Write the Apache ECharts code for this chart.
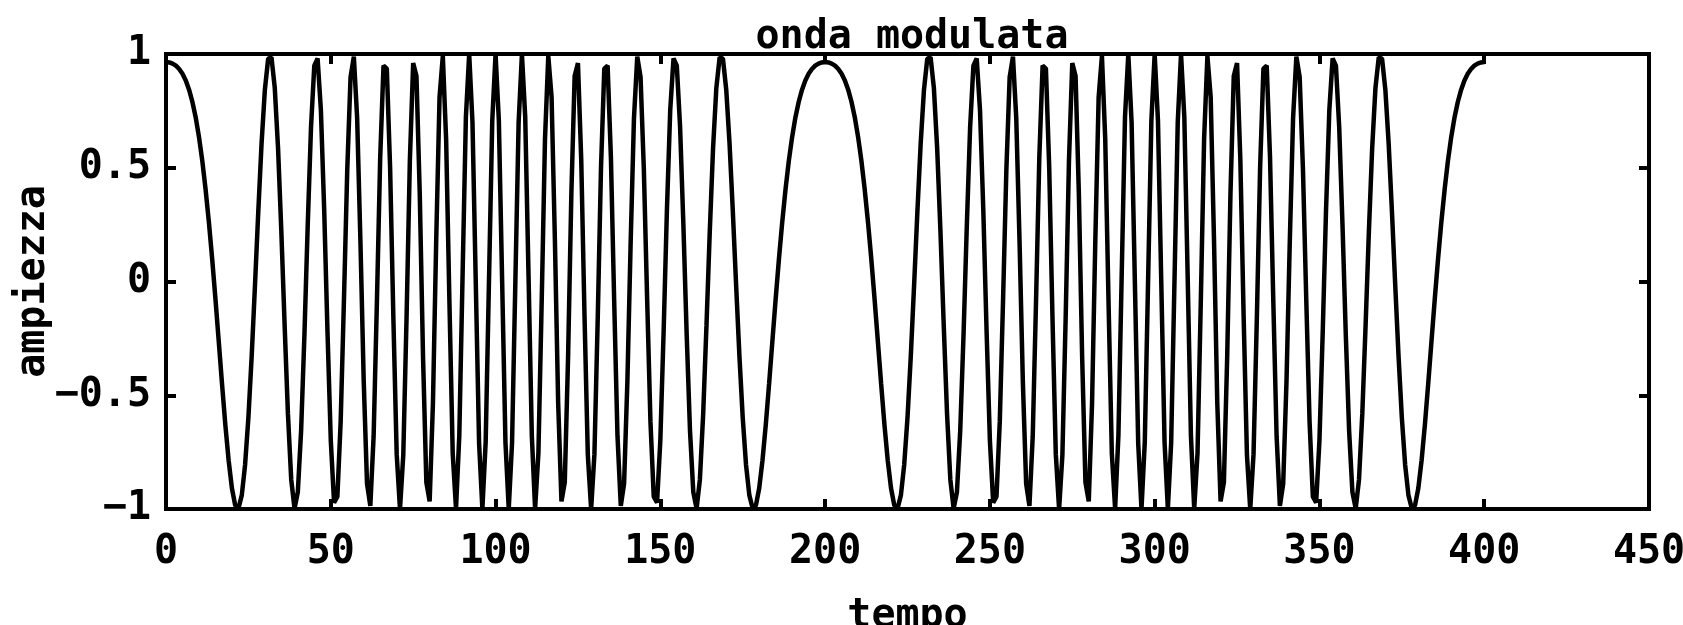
<!DOCTYPE html>
<html>
<head>
<meta charset="utf-8">
<script src="https://cdn.jsdelivr.net/npm/echarts@6/dist/echarts.min.js"></script>
<style>
html,body{margin:0;padding:0;background:#fff;}
#c{width:1683px;height:625px;}
</style>
</head>
<body>
<div id="c"></div>
<script>
// sampling of the time axis (one sample per unit of "tempo")
const tempoStart = 0;
const tempoStep = 1;
// amplitude samples, t = 0 .. 400
const ampiezza = [
0.965,0.963,0.958,0.949,0.934,0.913,0.884,0.843,0.790,0.722,
0.636,0.532,0.407,0.263,0.101,-0.076,-0.262,-0.450,-0.629,-0.786,
-0.909,-0.984,-0.997,-0.939,-0.805,-0.598,-0.328,-0.017,0.307,0.607,
0.843,0.979,0.986,0.852,0.586,0.219,-0.194,-0.582,-0.871,-0.998,
-0.925,-0.655,-0.236,0.246,0.677,0.949,0.981,0.753,0.315,-0.220,
-0.698,-0.972,-0.946,-0.616,-0.079,0.492,0.898,0.988,0.718,0.175,
-0.440,-0.889,-0.986,-0.680,-0.088,0.547,0.949,0.936,0.502,-0.165,
-0.759,-1.000,-0.763,-0.155,0.534,0.960,0.903,0.385,-0.335,-0.883,
-0.967,-0.535,0.187,0.810,0.991,0.626,-0.088,-0.755,-0.998,-0.676,
0.032,0.724,1.000,0.699,-0.007,-0.710,-1.000,-0.706,0.000,0.707,
1.000,
0.707,0.000,-0.706,-1.000,-0.710,-0.007,0.699,1.000,0.724,0.032,
-0.676,-0.998,-0.755,-0.088,0.626,0.991,0.810,0.187,-0.535,-0.967,
-0.883,-0.335,0.385,0.903,0.960,0.534,-0.155,-0.763,-1.000,-0.759,
-0.165,0.502,0.936,0.949,0.547,-0.088,-0.680,-0.986,-0.889,-0.440,
0.175,0.718,0.988,0.898,0.492,-0.079,-0.616,-0.946,-0.972,-0.698,
-0.220,0.315,0.753,0.981,0.949,0.677,0.246,-0.236,-0.655,-0.925,
-0.998,-0.871,-0.582,-0.194,0.219,0.586,0.852,0.986,0.979,0.843,
0.607,0.307,-0.017,-0.328,-0.598,-0.805,-0.939,-0.997,-0.984,-0.909,
-0.786,-0.629,-0.450,-0.262,-0.076,0.101,0.263,0.407,0.532,0.636,
0.722,0.790,0.843,0.884,0.913,0.934,0.949,0.958,0.963,0.965,
0.963,0.958,0.949,0.934,0.913,0.884,0.843,0.790,0.722,0.636,
0.532,0.407,0.263,0.101,-0.076,-0.262,-0.450,-0.629,-0.786,-0.909,
-0.984,-0.997,-0.939,-0.805,-0.598,-0.328,-0.017,0.307,0.607,0.843,
0.979,0.986,0.852,0.586,0.219,-0.194,-0.582,-0.871,-0.998,-0.925,
-0.655,-0.236,0.246,0.677,0.949,0.981,0.753,0.315,-0.220,-0.698,
-0.972,-0.946,-0.616,-0.079,0.492,0.898,0.988,0.718,0.175,-0.440,
-0.889,-0.986,-0.680,-0.088,0.547,0.949,0.936,0.502,-0.165,-0.759,
-1.000,-0.763,-0.155,0.534,0.960,0.903,0.385,-0.335,-0.883,-0.967,
-0.535,0.187,0.810,0.991,0.626,-0.088,-0.755,-0.998,-0.676,0.032,
0.724,1.000,0.699,-0.007,-0.710,-1.000,-0.706,0.000,0.707,1.000,
0.707,0.000,-0.706,-1.000,-0.710,-0.007,0.699,1.000,0.724,0.032,
-0.676,-0.998,-0.755,-0.088,0.626,0.991,0.810,0.187,-0.535,-0.967,
-0.883,-0.335,0.385,0.903,0.960,0.534,-0.155,-0.763,-1.000,-0.759,
-0.165,0.502,0.936,0.949,0.547,-0.088,-0.680,-0.986,-0.889,-0.440,
0.175,0.718,0.988,0.898,0.492,-0.079,-0.616,-0.946,-0.972,-0.698,
-0.220,0.315,0.753,0.981,0.949,0.677,0.246,-0.236,-0.655,-0.925,
-0.998,-0.871,-0.582,-0.194,0.219,0.586,0.852,0.986,0.979,0.843,
0.607,0.307,-0.017,-0.328,-0.598,-0.805,-0.939,-0.997,-0.984,-0.909,
-0.786,-0.629,-0.450,-0.262,-0.076,0.101,0.263,0.407,0.532,0.636,
0.722,0.790,0.843,0.884,0.913,0.934,0.949,0.958,0.963,0.965
];
const xTicks = {min: 0, max: 450, interval: 50};
const yTicks = {min: -1, max: 1, interval: 0.5};
const titolo = 'onda modulata';
const nomeX = 'tempo';
const nomeY = 'ampiezza';

const FONT = 'DejaVu Sans Mono';
const txt = {fontFamily: FONT, fontWeight: 'bold', fontSize: 40, color: '#000'};
const tick = {show: true, inside: true, length: 10, lineStyle: {color: '#000', width: 4}};
const noLine = {show: false, onZero: false};

const seriesData = ampiezza.map((v, i) => [tempoStart + i * tempoStep, v]);

const chart = echarts.init(document.getElementById('c'), null, {renderer: 'canvas'});
chart.setOption({
  animation: false,
  backgroundColor: '#fff',
  title: {
    text: titolo, left: 907, top: 13, textAlign: 'center',
    textStyle: Object.assign({}, txt)
  },
  grid: {left: 166, right: 34, top: 54, bottom: 116, show: true, borderColor: '#000', borderWidth: 4,
         containLabel: false, outerBoundsMode: 'none'},
  xAxis: [
    {type: 'value', position: 'bottom', min: xTicks.min, max: xTicks.max, interval: xTicks.interval,
     axisLine: noLine, axisTick: tick, splitLine: {show: false},
     axisLabel: Object.assign({margin: 24, showMinLabel: true, showMaxLabel: true}, txt),
     name: nomeX, nameLocation: 'middle', nameGap: 88, nameTextStyle: Object.assign({}, txt)},
    {type: 'value', position: 'top', min: xTicks.min, max: xTicks.max, interval: xTicks.interval,
     axisLine: noLine, axisTick: tick, splitLine: {show: false}, axisLabel: {show: false}}
  ],
  yAxis: [
    {type: 'value', position: 'left', min: yTicks.min, max: yTicks.max, interval: yTicks.interval,
     axisLine: noLine, axisTick: tick, splitLine: {show: false},
     axisLabel: Object.assign({margin: 15, showMinLabel: true, showMaxLabel: true,
       formatter: v => String(v).replace('-', '\u2212')}, txt),
     name: nomeY, nameLocation: 'middle', nameGap: 112, nameMoveOverlap: false, nameRotate: 90,
     nameTextStyle: Object.assign({}, txt)},
    {type: 'value', position: 'right', min: yTicks.min, max: yTicks.max, interval: yTicks.interval,
     axisLine: noLine, axisTick: tick, splitLine: {show: false}, axisLabel: {show: false}}
  ],
  series: [{
    type: 'line', xAxisIndex: 0, yAxisIndex: 0, data: seriesData,
    showSymbol: false, symbol: 'none', smooth: false,
    lineStyle: {color: '#000', width: 4.5}, clip: true
  }]
});
</script>
</body>
</html>
